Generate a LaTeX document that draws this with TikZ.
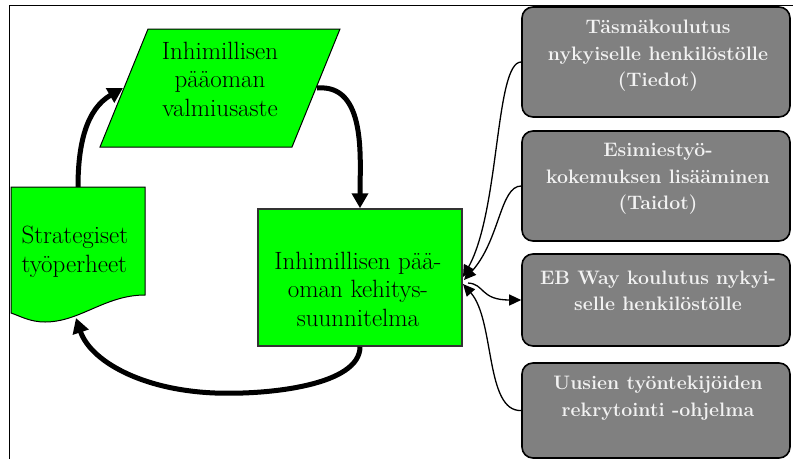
\documentclass[tikz,border=0pt]{standalone}
\usetikzlibrary{arrows.meta}
\definecolor{pgreen}{RGB}{0,255,0}
\definecolor{boxgray}{RGB}{128,128,128}
\definecolor{boxtext}{RGB}{242,242,242}
\begin{document}
\begin{tikzpicture}[x=1pt,y=-1pt,
  shapeline/.style={draw=black,line width=1pt,fill=pgreen},
  planbox/.style={draw=black!80,line width=1.5pt,fill=pgreen,minimum width=204pt,minimum height=137pt},
  graybox/.style={draw=black,line width=1.6pt,fill=boxgray,rounded corners=11pt,minimum width=268pt},
  graytext/.style={text=boxtext,font=\fontsize{19.5}{26.5}\selectfont\bfseries,align=center},
  greentext/.style={font=\fontsize{25}{28.5}\selectfont,align=center},
  bigarrow/.style={line width=5pt,-{Triangle[length=15pt,width=16pt]}},
  thinarrow/.style={line width=1.3pt,-{Triangle[length=12pt,width=11pt]}},
]
\useasboundingbox (0,0) rectangle (793,459);
% outer frame
\draw[line width=1pt] (9,459) -- (9,5) -- (793,5);

% readiness (parallelogram)
\draw[shapeline] (148,29) -- (340,29) -- (292,147) -- (100,147) -- cycle;
\node[greentext] (ready) at (220,79) {Inhimillisen\\pääoman\\valmiusaste};
\coordinate (readyW) at (123,88);
\coordinate (readyE) at (317,88);

% strategic job families (document shape)
\draw[shapeline] (11,187) -- (145,187) -- (145,295)
  .. controls (105,295) and (80,322) .. (45,322)
  .. controls (30,322) and (20,316) .. (11,313) -- cycle;
\node[greentext,align=left,anchor=west] (strat) at (18,252) {Strategiset\\työperheet};
\coordinate (stratN) at (78,187);
\coordinate (stratS) at (76,318);

% development plan
\node[planbox] (plan) at (360,277.5) {};
\node[greentext] (plant) at (358,289) {Inhimillisen pää-\\oman kehitys-\\suunnitelma};

% measures
\node[graybox,minimum height=110pt] (b1) at (656,62) {};
\node[graytext] (b1t) at (658,56) {Täsmäkoulutus\\nykyiselle henkilöstölle\\(Tiedot)};
\node[graybox,minimum height=110pt] (b2) at (656,186) {};
\node[graytext] (b2t) at (658,179) {Esimiestyö-\\kokemuksen lisääminen\\(Taidot)};
\node[graybox,minimum height=92pt] (b3) at (656,300) {};
\node[graytext] (b3t) at (658,291) {EB Way koulutus nykyi-\\selle henkilöstölle};
\node[graybox,minimum height=95pt] (b4) at (656,410.5) {};
\node[graytext] (b4t) at (658,398) {Uusien työntekijöiden\\rekrytointi -ohjelma};

% main cycle
\draw[bigarrow] (stratN) to[out=90,in=210] (readyW);
\draw[bigarrow] (readyE) to[out=5,in=90] (plan.north);
\draw[bigarrow] (plan.south) .. controls (360,385) and (270,395) .. (215,393)
  .. controls (140,390) and (90,360) .. (stratS);

% links between plan and measures
\coordinate (hubA) at (463,277);
\coordinate (hubB) at (464,280);
\coordinate (hubC) at (463,284);
\coordinate (hubD) at (468,283);
\draw[thinarrow] (b1.west) .. controls (495,62) and (500,210) .. (hubA);
\draw[thinarrow] (b2.west) .. controls (500,186) and (500,240) .. (hubB);
\draw[thinarrow] (b4.west) .. controls (485,412) and (495,320) .. (hubC);
\draw[thinarrow] (hubD) .. controls (485,284) and (480,300) .. (b3.west);
\end{tikzpicture}
\end{document}
